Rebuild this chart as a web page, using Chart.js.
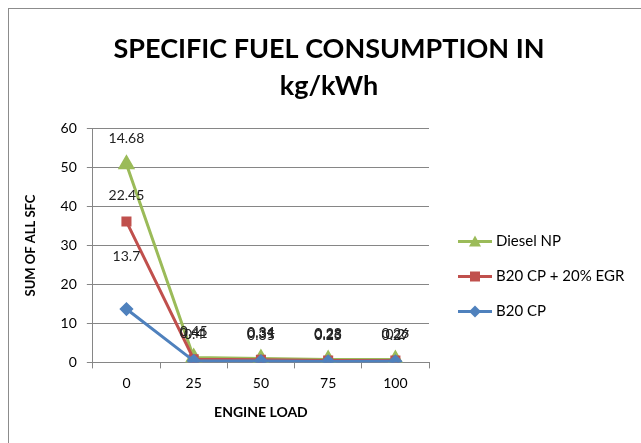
<!DOCTYPE html>
<html>
<head>
<meta charset="utf-8">
<script src="https://cdn.jsdelivr.net/npm/chart.js@4"></script>
<style>
  body { margin: 0; background: #fff; }
  #wrap { position: relative; width: 641px; height: 443px; }
  #frame { position: absolute; left: 8px; top: 8px; width: 700px; height: 500px; border: 1px solid #8c8c8c; box-sizing: border-box; }
  canvas { position: absolute; left: 0; top: 0; }
</style>
</head>
<body>
<div id="wrap">
  <div id="frame"></div>
  <canvas id="sfcChart" width="641" height="443"></canvas>
</div>
<script>
const loads = ["0", "25", "50", "75", "100"];
const b20cp = [13.7, 0.40, 0.35, 0.25, 0.27];
const b20egr = [22.45, 0.41, 0.31, 0.23, 0.20];
const dieselNp = [14.68, 0.45, 0.34, 0.28, 0.26];
const yTicks = [0, 10, 20, 30, 40, 50, 60];

const FONT = "Lato, 'Liberation Sans', sans-serif";

const series = [
  { label: "B20 CP", data: b20cp, color: "#4F81BD", style: "rectRot", radius: 5 },
  { label: "B20 CP + 20% EGR", data: b20egr, color: "#C0504D", style: "rect", radius: 5 },
  { label: "Diesel NP", data: dieselNp, color: "#9BBB59", style: "triangle", radius: 7 }
];

// small line + marker, the way Excel shows it in the legend
function drawLegendIcon(ctx, x, y, color, style) {
  ctx.strokeStyle = color;
  ctx.fillStyle = color;
  ctx.lineWidth = 3;
  ctx.beginPath();
  ctx.moveTo(x, y);
  ctx.lineTo(x + 34, y);
  ctx.stroke();
  const cx = x + 17;
  ctx.beginPath();
  if (style === "triangle") {
    ctx.moveTo(cx, y - 6);
    ctx.lineTo(cx + 6, y + 5);
    ctx.lineTo(cx - 6, y + 5);
  } else if (style === "rect") {
    ctx.rect(cx - 5, y - 5, 10, 10);
  } else {
    ctx.moveTo(cx, y - 6);
    ctx.lineTo(cx + 6, y);
    ctx.lineTo(cx, y + 6);
    ctx.lineTo(cx - 6, y);
  }
  ctx.closePath();
  ctx.fill();
}

const valueLabels = {
  id: "valueLabels",
  afterDatasetsDraw(chart) {
    const ctx = chart.ctx;
    ctx.save();
    ctx.font = "14px " + FONT;
    ctx.fillStyle = "#222";
    ctx.textAlign = "center";
    ctx.textBaseline = "middle";
    chart.data.datasets.forEach((ds, di) => {
      const meta = chart.getDatasetMeta(di);
      meta.data.forEach((pt, i) => {
        const off = (di === 0 && i === 0) ? 53 : 26;
        ctx.fillText(String(ds.data[i]), pt.x, pt.y - off);
      });
    });
    ctx.restore();
  }
};

const sideLegend = {
  id: "sideLegend",
  afterDraw(chart) {
    const ctx = chart.ctx;
    const area = chart.chartArea;
    const x0 = area.right + 29;
    const mid = (area.top + area.bottom) / 2 + 31;
    ctx.save();
    ctx.font = "15px " + FONT;
    ctx.textAlign = "left";
    ctx.textBaseline = "middle";
    // Excel lists the stacked series from the top down
    [...series].reverse().forEach((s, k) => {
      const y = mid + (k - 1) * 35;
      drawLegendIcon(ctx, x0, y, s.color, s.style);
      ctx.fillStyle = "#000";
      ctx.fillText(s.label, x0 + 38, y);
    });
    ctx.restore();
  }
};

new Chart(document.getElementById("sfcChart"), {
  type: "line",
  data: {
    labels: loads,
    datasets: series.map(s => ({
      label: s.label,
      data: s.data,
      borderColor: s.color,
      backgroundColor: s.color,
      borderWidth: 3,
      pointStyle: s.style,
      pointRadius: s.radius,
      pointHoverRadius: s.radius,
      tension: 0,
      fill: false
    }))
  },
  plugins: [valueLabels, sideLegend],
  options: {
    responsive: false,
    animation: false,
    layout: { padding: { left: 23, right: 6, top: 0, bottom: 22 } },
    plugins: {
      title: {
        display: true,
        text: ["SPECIFIC FUEL CONSUMPTION IN", "kg/kWh"],
        color: "#000",
        font: { family: FONT, size: 27, weight: "bold", lineHeight: 1.4 },
        padding: { top: 30, bottom: 23 }
      },
      legend: { display: false },
      tooltip: { enabled: false }
    },
    scales: {
      x: {
        offset: true,
        grid: {
          display: true,
          drawOnChartArea: false,
          offset: true,
          color: "#868686",
          tickLength: 6
        },
        border: { color: "#868686" },
        ticks: { color: "#000", font: { family: FONT, size: 14 }, padding: 7 },
        title: {
          display: true,
          text: "ENGINE LOAD",
          color: "#000",
          font: { family: FONT, size: 14, weight: "bold" },
          padding: { top: 5, bottom: 0 }
        }
      },
      y: {
        stacked: true,
        min: yTicks[0],
        max: yTicks[yTicks.length - 1],
        afterBuildTicks(axis) {
          axis.ticks = yTicks.map(v => ({ value: v }));
        },
        grid: { color: "#868686", tickLength: 6 },
        border: { color: "#868686" },
        ticks: { color: "#000", font: { family: FONT, size: 14 }, padding: 10 },
        title: {
          display: true,
          text: "SUM OF ALL SFC",
          color: "#000",
          font: { family: FONT, size: 13, weight: "bold" },
          padding: { top: 0, bottom: 12 }
        }
      },
      // empty right-hand box that keeps room for the legend
      legendRoom: {
        type: "linear",
        position: "right",
        display: true,
        grid: { display: false },
        border: { display: false },
        ticks: { display: false },
        afterFit(axis) {
          axis.width = 206;
        }
      }
    }
  }
});
</script>
</body>
</html>
